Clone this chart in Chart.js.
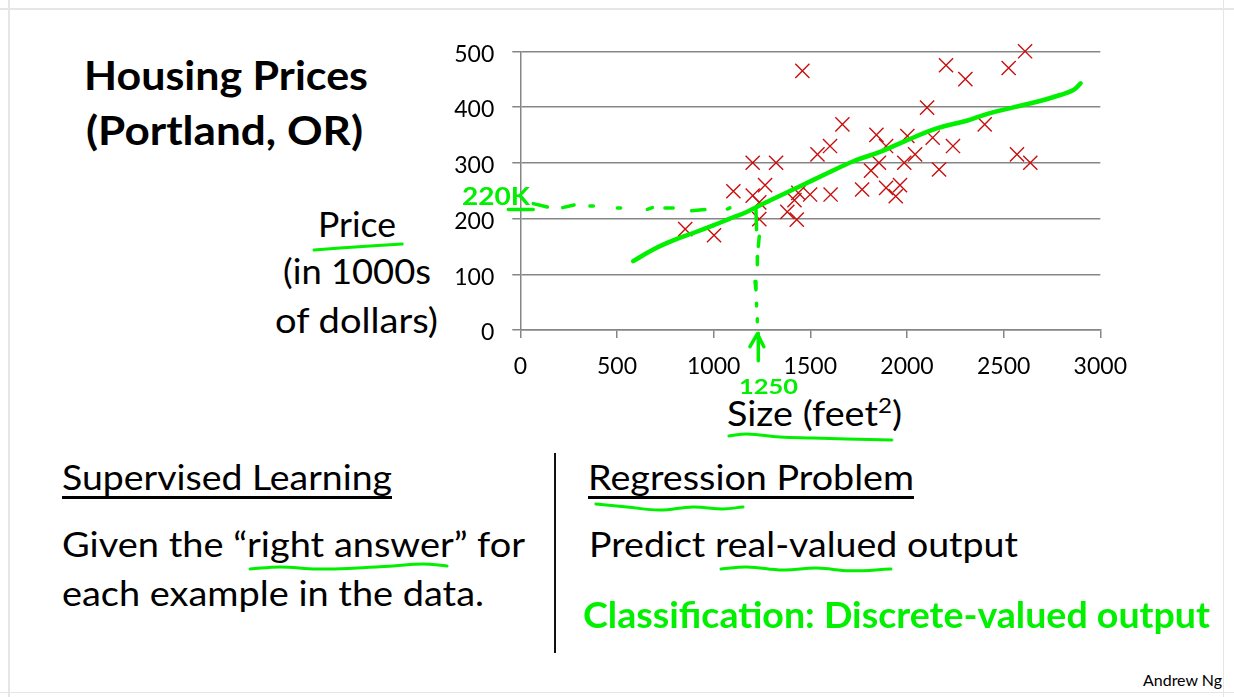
<!DOCTYPE html>
<html><head><meta charset="utf-8">
<script src="https://cdn.jsdelivr.net/npm/chart.js@4"></script>
<style>
html,body{margin:0;padding:0;background:#fff;width:1234px;height:697px;overflow:hidden}
#c{position:absolute;left:0;top:0;z-index:2}
.t{position:absolute;white-space:pre;font-family:Lato,sans-serif;color:#000;transform-origin:0 0;z-index:1;line-height:1.2}
.t sup{font-size:.64em;line-height:0;vertical-align:.62em}
.u{text-decoration:underline;text-decoration-thickness:2.5px;text-underline-offset:6px;text-decoration-skip-ink:none}
.ink{color:#00f000;z-index:3}
.f{position:absolute;background:#e6e6e6}
#div{position:absolute;left:554px;top:453px;width:2px;height:200px;background:#111}
</style></head><body>
<div class="f" style="left:8px;top:0;width:1.5px;height:697px"></div>
<div class="f" style="left:1222.5px;top:0;width:1.5px;height:697px"></div>
<div class="f" style="left:0;top:8px;width:1234px;height:1.5px"></div>
<div class="f" style="left:0;top:691.5px;width:1234px;height:1.5px"></div>
<div id="div"></div>
<canvas id="c" width="1234" height="697"></canvas>
<script>
// --- Housing data (size in feet^2, price in $1000s)
const sizeValues  = [853,1002,1102,1202,1323,1202,1236,1266,1236,1381,1430,1418,1438,1499,1605,1537,1602,1459,1666,1768,1842,1892,1855,1814,1892,1964,1942,1986,2042,2002,2166,2133,2238,2104,2202,2302,2402,2526,2611,2569,2638];
const priceValues = [181,170,249,300,300,241,229,260,199,212,198,233,246,243,243,315,330,465,369,252,350,330,300,286,255,260,240,300,315,348,288,345,330,399,475,450,369,470,500,315,300];

// --- Hand-drawn fit curve
const fitX = [584,688,791,895,998,1084,1171,1240,1343,1447,1585,1723,1861,1981,2154,2309,2412,2550,2688,2792,2861,2898];
const fitY = [123.5,144.5,160.7,174,187.7,199.7,211.7,223.7,241,258,280.7,302.8,319.6,337.6,361.6,375.4,387.4,399.4,410.8,421.6,430.6,442.6];

// --- Hand-drawn guides, in axis units (null separates strokes)
const guideHX = [67,-62,null,67,140,null,219,278,null,360,378,null,502,519,null,657,683,null,748,791,null,886,955,null,1071,1084];
const guideHY = [216,216,null,226.7,220.7,null,219.5,224.3,null,222.5,222.5,null,219,219,null,216.5,219.5,null,219,219,null,214,216,null,217,219];
const guideVX = [1222,1219,null,1236,1231,null,1227,1226,null,1214,1219,null,1222,1222,null,1226,1226,null,1231,1231,null,1188,1226,1260];
const guideVY = [180,216,null,168,150,null,132,117,null,87,72,null,48,43,null,20,15,null,-6,-55,null,-30,-7,-30];

// --- Hand-drawn underlines, in axis units
const underPriceX = [-611,-777,-932,-1067];
const underPriceY = [154.3,150.7,147,143.5];
const underSizeX  = [1922,1689,1513,1342,1172,1079];
const underSizeY  = [-197.3,-195.5,-193.8,-192,-186.6,-190];
const underAnsX   = [-379,-503,-658,-844,-1051,-1243,-1398];
const underAnsY   = [-423.4,-419.8,-423.4,-427,-428.8,-425,-428.8];
const underRegX   = [1152,1048,893,722,552,391];
const underRegY   = [-317.5,-321,-317.5,-323,-317.5,-312];
const underRealX  = [1917,1705,1534,1359,1172,1038];
const underRealY  = [-428.8,-432,-427,-430.6,-425,-428.8];

const xAxisMax = 3000, xAxisStep = 500, yAxisMax = 500, yAxisStep = 100;

// --- Slide text
const slideText = [
 ["Housing Prices",        84, 90, 284, 40, 700, ""],
 ["(Portland, OR)",        86,145, 277, 40, 700, ""],
 ["Price",                318,237,  78, 34, 400, ""],
 ["(in 1000s",            283,284, 148, 34, 400, ""],
 ["of dollars)",          275,333, 163, 34, 400, ""],
 ["Size (feet<sup>2</sup>)", 727,426, 175, 34, 400, ""],
 ["Supervised Learning",   62,490, 330, 34, 400, "u"],
 ["Given the “right answer” for", 62,557, 463, 34, 400, ""],
 ["each example in the data.",    62,606, 422, 34, 400, ""],
 ["Regression Problem",   588,490, 326, 34, 400, "u"],
 ["Predict real-valued output",   589,557, 429, 34, 400, ""],
 ["Andrew Ng",           1143,686,  79, 15, 400, ""],
 ["220K",                 462,205,  68, 25, 700, "ink"],
 ["1250",                 739,394,  59, 21, 700, "ink"],
 ["Classification: Discrete-valued output", 583,628, 627, 37, 700, "ink"]
];
slideText.forEach(([txt,x,base,w,size,weight,cls])=>{
  const d=document.createElement('div');
  d.className='t '+cls; d.style.left=x+'px'; d.style.top='0px';
  d.style.fontSize=size+'px'; d.style.fontWeight=weight;
  d.innerHTML=txt;
  const strut=document.createElement('span');
  strut.style.cssText='display:inline-block;width:0;height:0';
  d.appendChild(strut);
  document.body.appendChild(d);
  const bl=strut.getBoundingClientRect().bottom;
  d.style.top=(base-bl)+'px';
  d.style.transform='scaleX('+(w/d.getBoundingClientRect().width)+')';
});

const GREEN='#00f000';
const zip=(xs,ys)=>xs.map((x,i)=>({x,y:ys[i]}));
const ink=(xs,ys,w,tension)=>({type:'line',data:zip(xs,ys),borderColor:GREEN,borderWidth:w,pointRadius:0,
  clip:false,tension:tension,fill:false,borderCapStyle:'round',borderJoinStyle:'round',spanGaps:false,order:1});

const GRID='#868686';
new Chart(document.getElementById('c').getContext('2d'),{
  type:'scatter',
  data:{datasets:[
    {type:'scatter',label:'Housing prices',data:zip(sizeValues,priceValues),pointStyle:'crossRot',pointRadius:10,
     pointBorderColor:'#c80f0f',pointBackgroundColor:'#c80f0f',pointBorderWidth:1.4,clip:false,order:2},
    ink(fitX.slice().reverse(),fitY.slice().reverse(),4.5,0.4),
    ink(guideHX,guideHY,3.5,0),
    ink(guideVX,guideVY,3.5,0),
    ink(underPriceX,underPriceY,3,0.4),
    ink(underSizeX,underSizeY,3,0.4),
    ink(underAnsX,underAnsY,3,0.4),
    ink(underRegX,underRegY,3,0.4),
    ink(underRealX,underRealY,3,0.4)
  ]},
  options:{
    responsive:false,animation:false,devicePixelRatio:1,
    layout:{padding:{left:400.3,right:133.7,top:51.3,bottom:307}},
    plugins:{legend:{display:false},title:{display:false},tooltip:{enabled:false}},
    scales:{
      x:{type:'linear',min:0,max:xAxisMax,
         afterFit:s=>{s.height=60},
         ticks:{stepSize:xAxisStep,color:'#000',padding:15,maxRotation:0,font:{family:'Lato',size:23},callback:v=>String(v)},
         grid:{drawOnChartArea:false,drawTicks:true,tickLength:8,color:GRID,lineWidth:1.5,tickColor:GRID},
         border:{display:true,color:GRID,width:1.5}},
      y:{type:'linear',min:0,max:yAxisMax,
         afterFit:s=>{s.width=120},
         ticks:{stepSize:yAxisStep,color:'#000',padding:18,labelOffset:3,font:{family:'Lato',size:23},callback:v=>String(v)},
         grid:{drawOnChartArea:true,drawTicks:true,tickLength:8,color:GRID,lineWidth:1.5,tickColor:GRID},
         border:{display:true,color:GRID,width:1.5}}
    }
  }
});
</script>
</body></html>
